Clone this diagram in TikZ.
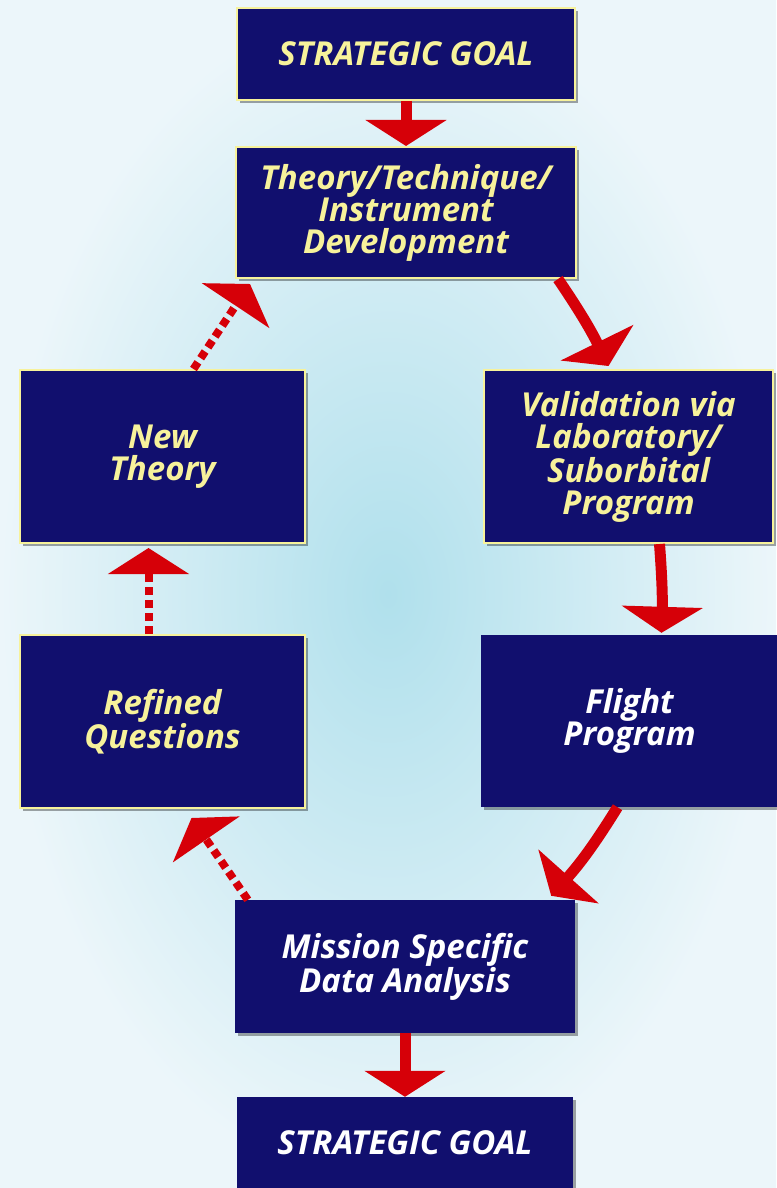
\documentclass[tikz,border=0pt]{standalone}
\usepackage{fontspec}
\setmainfont{Open Sans}
\usetikzlibrary{arrows.meta,shadows,positioning}
\definecolor{navy}{RGB}{17,15,110}
\definecolor{paleyellow}{RGB}{247,242,155}
\definecolor{arrowred}{RGB}{214,0,8}
\definecolor{skycenter}{RGB}{176,224,236}
\definecolor{skyedge}{RGB}{236,246,250}

\begin{document}
\begin{tikzpicture}[
  x=1pt,y=-1pt,
  box/.style={fill=navy,inner sep=0pt,align=center,font=\fontsize{33}{32}\selectfont\bfseries\itshape,
    drop shadow={shadow xshift=3pt,shadow yshift=-3pt,fill=black,opacity=0.35}},
  yellowbox/.style={box,draw=paleyellow,line width=2pt,text=paleyellow},
  whitebox/.style={box,text=white},
  mainarrow/.style={arrowred,line width=11pt,-{Triangle[width=80pt,length=26pt]}},
  backarrow/.style={arrowred,line width=8pt,dash pattern=on 8pt off 5pt,-{Triangle[width=80pt,length=26pt]}}
]
  \useasboundingbox (0,0) rectangle (776,1188);
  \shade[inner color=skycenter,outer color=skyedge] (0,0) rectangle (776,1188);

  \node[yellowbox,minimum width=338pt,minimum height=92pt] (goal) at (406,54) {STRATEGIC GOAL};
  \node[yellowbox,minimum width=340pt,minimum height=131pt] (theory) at (406,212.5) {Theory/Technique/\\Instrument\\Development};
  \node[yellowbox,minimum width=289pt,minimum height=173pt] (valid) at (628.5,456.5) {Validation via\\Laboratory/\\Suborbital\\Program};
  \node[yellowbox,minimum width=285pt,minimum height=173pt] (newtheory) at (162.5,456.5) {New\\Theory};
  \node[yellowbox,minimum width=285pt,minimum height=173pt] (refined) at (162.5,721.5) {Refined\\Questions};
  \node[whitebox,minimum width=297pt,minimum height=172pt] (flight) at (629.5,721) {Flight\\Program};
  \node[whitebox,minimum width=340pt,minimum height=133pt] (mission) at (405,966.5) {Mission Specific\\Data Analysis};
  \node[whitebox,minimum width=336pt,minimum height=92pt] (endgoal) at (405,1143) {STRATEGIC GOAL};

  \draw[mainarrow] (goal) -- (theory);
  \draw[mainarrow] ([xshift=-19pt]theory.south east) to[bend left=4] ([xshift=-20pt,yshift=3pt]valid.north);
  \draw[mainarrow] ([xshift=31pt]valid.south) to[bend left=3] ([xshift=32pt,yshift=2pt]flight.north);
  \draw[mainarrow] ([xshift=-12pt]flight.south) to[bend left=5] ([xshift=-24pt,yshift=4pt]mission.north east);
  \draw[mainarrow] (mission) -- (endgoal);
  \draw[backarrow] ([xshift=13pt]mission.north west) -- ([xshift=29pt,yshift=-9pt]refined.south);
  \draw[backarrow] ([xshift=-14pt]refined.north) -- ([xshift=-14pt,yshift=-4pt]newtheory.south);
  \draw[backarrow] ([xshift=31pt]newtheory.north) -- ([xshift=15pt,yshift=-5pt]theory.south west);
\end{tikzpicture}
\end{document}
